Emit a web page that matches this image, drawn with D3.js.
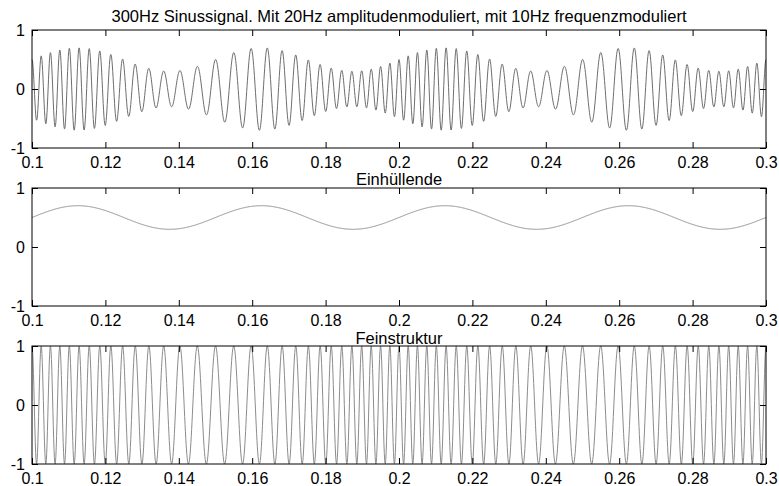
<!DOCTYPE html>
<html><head><meta charset="utf-8">
<script src="https://cdn.jsdelivr.net/npm/d3@7"></script>
<style>
html,body{margin:0;padding:0;background:#fff;}
svg{display:block;}
text{font-family:"Liberation Sans",Arial,Helvetica,sans-serif;fill:#000;}
</style></head>
<body>
<svg id="chart" width="779" height="486"></svg>
<script>
// ---- data ----
const panelTitles = ["300Hz Sinussignal. Mit 20Hz amplitudenmoduliert, mit 10Hz frequenzmoduliert", "Einhüllende", "Feinstruktur"];
const xTicks = [0.1, 0.12, 0.14, 0.16, 0.18, 0.2, 0.22, 0.24, 0.26, 0.28, 0.3];
const xTickLabels = ["0.1","0.12","0.14","0.16","0.18","0.2","0.22","0.24","0.26","0.28","0.3"];
const yTicks = [-1, 0, 1];
const yTickLabels = ["-1","0","1"];
const xDomain = [0.1, 0.3];
const yDomain = [-1, 1];
// signal parameters (from the title, envelope and fine-structure reading)
const carrierHz = [300];
const amHz = [20];
const fmHz = [10];
const envelopeOffset = [0.5];
const envelopeDepth = [0.2];
const fmDeviationHz = [100];
const sampleRate = [10000];

// sample the signal described in the title
const times = d3.range(Math.round((xDomain[1]-xDomain[0])*sampleRate[0]) + 1).map(i => xDomain[0] + i / sampleRate[0]);
const envelope = times.map(t => envelopeOffset[0] + envelopeDepth[0] * Math.sin(2*Math.PI*amHz[0]*t));
const fine = times.map(t => Math.cos(2*Math.PI*carrierHz[0]*t + (fmDeviationHz[0]/fmHz[0]) * Math.sin(2*Math.PI*fmHz[0]*t)));
const signal = fine.map((v, i) => v * envelope[i]);
const series = [signal, envelope, fine];

// ---- layout ----
const svg = d3.select("#chart");
const left = 32, right = 766;
const panelTops = [30, 188, 346];
const panelH = 118;
const titleBaselines = [22, 185, 343.5];
const lineColors = ["#6e6e6e", "#8c8c8c", "#8c8c8c"];
const tickLen = 6;

const x = d3.scaleLinear().domain(xDomain).range([left, right]);

panelTops.forEach((top, p) => {
  const y = d3.scaleLinear().domain(yDomain).range([top + panelH, top]);
  const g = svg.append("g");

  // curve
  const line = d3.line().x((d, i) => x(times[i])).y(d => y(d));
  g.append("path").datum(series[p])
    .attr("d", line)
    .attr("fill", "none")
    .attr("stroke", lineColors[p])
    .attr("stroke-width", 1);

  // bottom axis with inward ticks
  const axB = d3.axisBottom(x).tickValues(xTicks).tickFormat((d, i) => xTickLabels[i])
    .tickSizeInner(-tickLen).tickSizeOuter(0).tickPadding(9);
  const gb = g.append("g").attr("transform", `translate(0,${top + panelH})`).call(axB);
  const axT = d3.axisTop(x).tickValues(xTicks).tickFormat("")
    .tickSizeInner(-tickLen).tickSizeOuter(0);
  const gt = g.append("g").attr("transform", `translate(0,${top})`).call(axT);
  const axL = d3.axisLeft(y).tickValues(yTicks).tickFormat((d, i) => yTickLabels[i])
    .tickSizeInner(-tickLen).tickSizeOuter(0).tickPadding(7);
  const gl = g.append("g").attr("transform", `translate(${left},0)`).call(axL);
  const axR = d3.axisRight(y).tickValues(yTicks).tickFormat("")
    .tickSizeInner(-tickLen).tickSizeOuter(0);
  const gr = g.append("g").attr("transform", `translate(${right},0)`).call(axR);

  [gb, gt, gl, gr].forEach(a => {
    a.select(".domain").remove();
    a.selectAll(".tick line").attr("stroke", "#000").attr("stroke-width", 1);
    a.selectAll("text").attr("font-size", 16).attr("font-family", '"Liberation Sans",Arial,sans-serif').attr("fill", "#000");
  });
  gl.selectAll("text").attr("dy", "0.36em");
  gb.selectAll("text").attr("dy", "0.71em");

  // box
  g.append("rect").attr("x", left).attr("y", top).attr("width", right - left).attr("height", panelH)
    .attr("fill", "none").attr("stroke", "#000").attr("stroke-width", 1);

  // title
  g.append("text").attr("x", (left + right) / 2).attr("y", titleBaselines[p])
    .attr("text-anchor", "middle").attr("font-size", 16.5).text(panelTitles[p]);
});
</script>
</body></html>
